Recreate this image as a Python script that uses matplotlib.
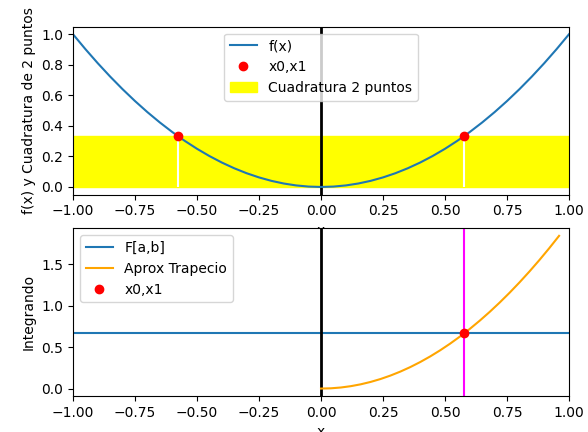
import matplotlib
matplotlib.use('Agg')
import matplotlib.pyplot as plt
from matplotlib.transforms import Bbox

# valores
x_f = [-1.0, -0.95, -0.9, -0.85, -0.8, -0.75, -0.7, -0.65, -0.6, -0.55, -0.5,
       -0.45, -0.4, -0.35, -0.3, -0.25, -0.2, -0.15, -0.1, -0.05, 0.0,
       0.05, 0.1, 0.15, 0.2, 0.25, 0.3, 0.35, 0.4, 0.45, 0.5,
       0.55, 0.6, 0.65, 0.7, 0.75, 0.8, 0.85, 0.9, 0.95, 1.0]
f_vals = [1.0, 0.9025, 0.81, 0.7225, 0.64, 0.5625, 0.49, 0.4225, 0.36, 0.3025, 0.25,
          0.2025, 0.16, 0.1225, 0.09, 0.0625, 0.04, 0.0225, 0.01, 0.0025, 0.0,
          0.0025, 0.01, 0.0225, 0.04, 0.0625, 0.09, 0.1225, 0.16, 0.2025, 0.25,
          0.3025, 0.36, 0.4225, 0.49, 0.5625, 0.64, 0.7225, 0.81, 0.9025, 1.0]

x_nodos = [-0.577, 0.577]
f_nodos = [0.333, 0.333]
cuad_x = [-1.0, 1.0]
cuad_h = [0.333, 0.333]

F_ab = 0.667
x_trap = [0.0, 0.04, 0.08, 0.12, 0.16, 0.2, 0.24, 0.28, 0.32, 0.36, 0.4, 0.44,
          0.48, 0.52, 0.56, 0.6, 0.64, 0.68, 0.72, 0.76, 0.8, 0.84, 0.88, 0.92, 0.96]
trap_vals = [0.0, 0.0032, 0.0128, 0.0288, 0.0512, 0.08, 0.1152, 0.1568, 0.2048,
             0.2592, 0.32, 0.3872, 0.4608, 0.5408, 0.6272, 0.72, 0.8192, 0.9248,
             1.0368, 1.1552, 1.28, 1.4112, 1.5488, 1.6928, 1.8432]
x_punto = [0.577]
y_punto = [0.667]

fig, (ax1, ax2) = plt.subplots(2, 1, figsize=(6.4, 4.8))

# ---- arriba: funcion y cuadratura ----
ax1.fill_between(cuad_x, 0, cuad_h, color='yellow', label='Cuadratura 2 puntos')
ax1.vlines(x_nodos, 0, f_nodos, color='white', linewidth=1.5)
ax1.axvline(0, color='black', linewidth=2)
ax1.plot(x_f, f_vals, label='f(x)')
ax1.plot(x_nodos, f_nodos, 'ro', label='x0,x1')
ax1.set_xlim(-1, 1)
ax1.set_xlabel('x')
ax1.set_ylabel('f(x) y Cuadratura de 2 puntos')
h, l = ax1.get_legend_handles_labels()
ax1.legend([h[1], h[2], h[0]], [l[1], l[2], l[0]], loc='upper center')

# ---- abajo: integrando ----
ax2.axhline(F_ab, label='F[a,b]')
ax2.axvline(0, color='black', linewidth=2)
ax2.axvline(x_punto[0], color='magenta')
ax2.plot(x_trap, trap_vals, color='orange', label='Aprox Trapecio')
ax2.plot(x_punto, y_punto, 'ro', label='x0,x1')
ax2.set_xlim(-1, 1)
ax2.set_xlabel('x')
ax2.set_ylabel('Integrando')
ax2.legend(loc='upper left')

plt.savefig('out.png', dpi=100, bbox_inches=Bbox([[0.07, 0.17], [5.95, 4.49]]))
